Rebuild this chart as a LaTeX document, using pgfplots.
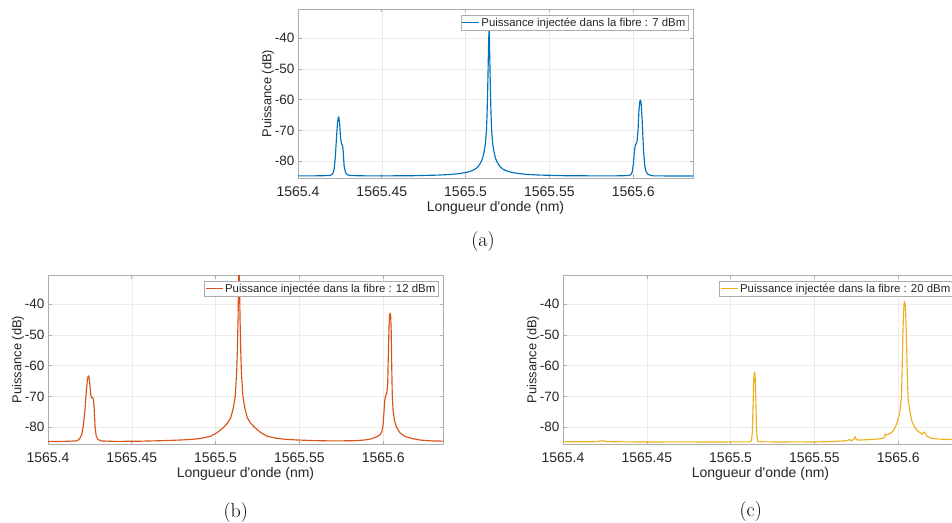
\documentclass[border=0pt]{standalone}
\usepackage{pgfplots}
\pgfplotsset{compat=1.18}
\usepackage{fontspec}
\newfontfamily\arialf{Liberation Sans}
\definecolor{mblue}{rgb}{0,0.447,0.741}
\definecolor{morange}{rgb}{0.850,0.325,0.098}
\definecolor{myellow}{rgb}{0.929,0.694,0.125}
\definecolor{axgray}{gray}{0.68}
\definecolor{txtgray}{gray}{0.15}
% x values are wavelength offsets (nm) from 1565.4 nm
\pgfplotsset{
  spec/.style={
    width=395pt, height=169pt, scale only axis,
    xmin=0, xmax=0.2357, ymin=-85.5, ymax=-30.5,
    xtick={0,0.05,0.1,0.15,0.2},
    xticklabels={1565.4,1565.45,1565.5,1565.55,1565.6},
    ytick={-80,-70,-60,-50,-40},
    yticklabels={-80,-70,-60,-50,-40},
    axis line style={axgray, line width=0.6pt},
    tick style={axgray, line width=0.6pt},
    tick align=inside, major tick length=3.5pt,
    grid=major, major grid style={black!8, line width=0.5pt},
    xticklabel style={font=\arialf\fontsize{14}{16}\selectfont, text=txtgray, anchor=center, yshift=-13.7pt},
    yticklabel style={font=\arialf\fontsize{13.5}{16}\selectfont, text=txtgray, anchor=east, inner sep=0pt, xshift=-3.5pt},
    xlabel={Longueur d\textquotesingle onde (nm)},
    ylabel={Puissance (dB)},
    xlabel style={font=\arialf\fontsize{14}{16}\selectfont, text=txtgray, at={(axis description cs:0.5,-0.1775)}, anchor=center},
    ylabel style={font=\arialf\fontsize{12.9}{15}\selectfont, text=txtgray, at={(axis description cs:-0.0759,0.5)}, anchor=center},
    legend style={at={(1,1)}, anchor=north east, xshift=-5pt, yshift=-6pt, draw=axgray, fill=white,
      font=\arialf\fontsize{11.4}{13}\selectfont, text=txtgray, inner sep=1pt, nodes={inner sep=1.5pt}},
    legend cell align=left,
    every axis plot/.append style={line width=1.15pt, line join=round},
  }
}
\begin{document}
\begin{tikzpicture}
\useasboundingbox (0,0) rectangle (952pt,522pt);
\clip (0,0) rectangle (952pt,522pt);
% (a)
\begin{axis}[spec, at={(298pt,344pt)}, anchor=south west]
\addplot[mblue] coordinates {
(0.0000,-84.8) (0.0100,-84.8) (0.0150,-84.75) (0.0188,-84.7) (0.0198,-84.5)
(0.0208,-84.0) (0.0216,-82.5) (0.0223,-78.5) (0.0230,-72.0) (0.0236,-67.5)
(0.0240,-65.9) (0.0243,-65.6) (0.0248,-67.5) (0.0254,-72.5) (0.0260,-74.5) (0.0266,-74.8)
(0.0270,-77.0) (0.0275,-81.5) (0.0283,-83.6) (0.0293,-84.4) (0.0310,-84.7)
(0.0400,-84.8) (0.0550,-84.8) (0.0690,-84.75)
(0.0840,-84.55) (0.0920,-84.3) (0.0970,-84.0) (0.1010,-83.6) (0.1040,-83.1)
(0.1060,-82.5) (0.1075,-81.8) (0.1090,-80.5) (0.1100,-79.3) (0.1110,-77.2)
(0.1118,-74.5) (0.1124,-70.5) (0.1128,-65.0) (0.1131,-59.0) (0.1134,-51.0)
(0.1137,-42.5) (0.1140,-36.5) (0.1143,-42.5) (0.1146,-51.0) (0.1149,-59.0)
(0.1152,-65.0) (0.1156,-70.5) (0.1162,-74.5) (0.1170,-77.2) (0.1180,-79.3)
(0.1190,-80.5) (0.1205,-81.8) (0.1220,-82.5) (0.1240,-83.1) (0.1270,-83.6)
(0.1310,-84.0) (0.1360,-84.3) (0.1440,-84.55) (0.1590,-84.75) (0.1750,-84.8)
(0.1900,-84.8) (0.1976,-84.7) (0.1986,-84.4) (0.1994,-83.6) (0.2001,-81.0)
(0.2007,-77.0) (0.2012,-75.0) (0.2018,-74.3) (0.2023,-73.6) (0.2029,-70.0)
(0.2034,-64.0) (0.2039,-60.8) (0.2042,-60.2) (0.2045,-60.4) (0.2048,-61.5) (0.2053,-66.0)
(0.2058,-72.0) (0.2063,-77.5) (0.2069,-81.5) (0.2076,-83.3) (0.2086,-84.2)
(0.2101,-84.6) (0.2121,-84.8) (0.2250,-84.85) (0.2400,-84.85)
};
\addlegendentry{Puissance injectée dans la fibre : 7 dBm}
\end{axis}
% (b)
\begin{axis}[spec, at={(48pt,78pt)}, anchor=south west]
\addplot[morange] coordinates {
(0.0000,-84.7) (0.0100,-84.65) (0.0166,-84.5) (0.0181,-84.2) (0.0191,-83.6)
(0.0201,-82.5) (0.0211,-79.5) (0.0221,-74.0) (0.0229,-68.0) (0.0236,-64.2)
(0.0240,-63.4) (0.0243,-63.3) (0.0248,-65.0) (0.0254,-69.0) (0.0259,-70.5) (0.0266,-70.4)
(0.0271,-71.0) (0.0276,-74.5) (0.0281,-80.0) (0.0288,-83.0) (0.0298,-84.0)
(0.0316,-84.5) (0.0400,-84.65) (0.0540,-84.6)
(0.0690,-84.4) (0.0790,-84.2) (0.0860,-84.0) (0.0920,-83.6) (0.0970,-83.0)
(0.1010,-81.8) (0.1045,-80.2) (0.1070,-78.8) (0.1090,-77.0) (0.1105,-74.0)
(0.1117,-70.0) (0.1126,-62.0) (0.1130,-55.0) (0.1134,-45.0) (0.1137,-34.0)
(0.1140,-25.0) (0.1143,-34.0) (0.1146,-45.0) (0.1150,-55.0) (0.1154,-62.0)
(0.1163,-70.0) (0.1175,-74.0) (0.1190,-77.0) (0.1210,-78.8) (0.1235,-80.2)
(0.1270,-81.8) (0.1310,-83.0) (0.1360,-83.6) (0.1420,-84.0) (0.1490,-84.2)
(0.1590,-84.4) (0.1700,-84.5) (0.1800,-84.45)
(0.1839,-84.4) (0.1889,-84.2) (0.1924,-83.9) (0.1959,-83.2) (0.1979,-82.6)
(0.1992,-81.5) (0.1999,-79.5) (0.2005,-75.0) (0.2010,-71.0) (0.2016,-69.5)
(0.2022,-69.0) (0.2027,-66.0) (0.2031,-56.0) (0.2035,-47.0) (0.2039,-43.5)
(0.2042,-42.9) (0.2045,-44.0) (0.2048,-49.0) (0.2051,-60.0) (0.2054,-69.0)
(0.2059,-74.5) (0.2067,-77.8) (0.2079,-80.0) (0.2099,-81.8) (0.2129,-83.0)
(0.2164,-83.6) (0.2219,-84.2) (0.2289,-84.5) (0.2400,-84.6)
};
\addlegendentry{Puissance injectée dans la fibre : 12 dBm}
\end{axis}
% (c)
\begin{axis}[spec, at={(563pt,78pt)}, anchor=south west]
\addplot[myellow] coordinates {
(0.0000,-84.8) (0.0100,-84.75) (0.0200,-84.8) (0.0225,-84.5) (0.0240,-84.45)
(0.0260,-84.7) (0.0350,-84.8) (0.0500,-84.85) (0.0700,-84.8) (0.0900,-84.85)
(0.1050,-84.8) (0.1117,-84.8) (0.1125,-84.3) (0.1130,-81.5) (0.1134,-73.0)
(0.1138,-65.0) (0.1142,-62.0) (0.1146,-62.8) (0.1150,-70.0) (0.1154,-79.0)
(0.1158,-83.5) (0.1164,-84.7) (0.1200,-84.8) (0.1300,-84.85) (0.1400,-84.8)
(0.1500,-84.85) (0.1600,-84.7) (0.1680,-84.5) (0.1700,-84.3) (0.1710,-84.0)
(0.1720,-84.5) (0.1735,-83.9) (0.1742,-83.1) (0.1750,-84.1) (0.1770,-84.2)
(0.1820,-84.1) (0.1870,-83.9) (0.1905,-83.7) (0.1918,-83.3) (0.1923,-82.2)
(0.1930,-82.6) (0.1945,-82.3) (0.1960,-81.8) (0.1975,-80.8) (0.1985,-79.8)
(0.1997,-78.0) (0.2010,-75.0) (0.2020,-70.0) (0.2024,-60.0) (0.2028,-50.0)
(0.2032,-43.0) (0.2035,-40.0) (0.2038,-39.2) (0.2041,-39.6) (0.2044,-42.0)
(0.2048,-48.0) (0.2052,-57.0) (0.2056,-66.0) (0.2060,-71.0) (0.2070,-75.0)
(0.2084,-78.5) (0.2098,-80.0) (0.2115,-81.2) (0.2135,-82.0) (0.2145,-82.3)
(0.2152,-81.6) (0.2160,-81.9) (0.2172,-83.0) (0.2197,-83.6) (0.2240,-83.9)
(0.2300,-84.0) (0.2400,-84.1)
};
\addlegendentry{Puissance injectée dans la fibre : 20 dBm}
\end{axis}
\node[font=\fontsize{20}{24}\selectfont] at (483pt,280pt) {(a)};
\node[font=\fontsize{20}{24}\selectfont] at (235.7pt,9pt) {(b)};
\node[font=\fontsize{20}{24}\selectfont] at (750.7pt,10pt) {(c)};
\end{tikzpicture}
\end{document}
